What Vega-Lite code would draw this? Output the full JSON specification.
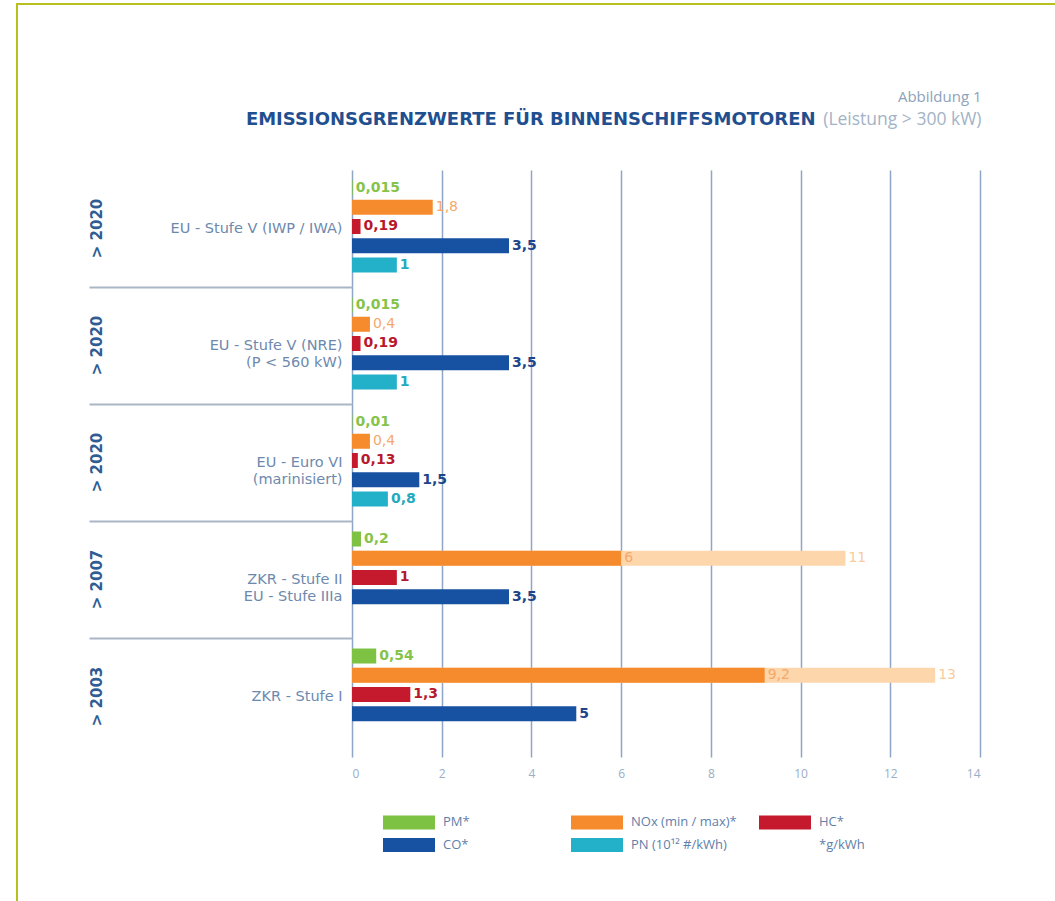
{
  "$schema": "https://vega.github.io/schema/vega-lite/v6.json",
  "width": 1045,
  "height": 900,
  "padding": {"left": 17, "top": 4, "right": 0, "bottom": 0},
  "autosize": {"type": "pad"},
  "background": "white",
  "config": {
    "font": "DejaVu Sans",
    "view": {"stroke": "#b7c11c", "strokeWidth": 2},
    "locale": {"number": {"decimal": ",", "thousands": ".", "grouping": [3], "currency": ["", " €"]}}
  },
  "data": {
    "values": [
      {"gruppe": "> 2020;EU - Stufe V (IWP / IWA)", "comp": "PM*", "value": 0.015},
      {"gruppe": "> 2020;EU - Stufe V (IWP / IWA)", "comp": "NOx (min / max)*", "value": 1.8},
      {"gruppe": "> 2020;EU - Stufe V (IWP / IWA)", "comp": "HC*", "value": 0.19},
      {"gruppe": "> 2020;EU - Stufe V (IWP / IWA)", "comp": "CO*", "value": 3.5},
      {"gruppe": "> 2020;EU - Stufe V (IWP / IWA)", "comp": "PN (10¹² #/kWh)", "value": 1},
      {"gruppe": "> 2020;EU - Stufe V (NRE)|(P < 560 kW)", "comp": "PM*", "value": 0.015},
      {"gruppe": "> 2020;EU - Stufe V (NRE)|(P < 560 kW)", "comp": "NOx (min / max)*", "value": 0.4},
      {"gruppe": "> 2020;EU - Stufe V (NRE)|(P < 560 kW)", "comp": "HC*", "value": 0.19},
      {"gruppe": "> 2020;EU - Stufe V (NRE)|(P < 560 kW)", "comp": "CO*", "value": 3.5},
      {"gruppe": "> 2020;EU - Stufe V (NRE)|(P < 560 kW)", "comp": "PN (10¹² #/kWh)", "value": 1},
      {"gruppe": "> 2020;EU - Euro VI|(marinisiert)", "comp": "PM*", "value": 0.01},
      {"gruppe": "> 2020;EU - Euro VI|(marinisiert)", "comp": "NOx (min / max)*", "value": 0.4},
      {"gruppe": "> 2020;EU - Euro VI|(marinisiert)", "comp": "HC*", "value": 0.13},
      {"gruppe": "> 2020;EU - Euro VI|(marinisiert)", "comp": "CO*", "value": 1.5},
      {"gruppe": "> 2020;EU - Euro VI|(marinisiert)", "comp": "PN (10¹² #/kWh)", "value": 0.8},
      {"gruppe": "> 2007;ZKR - Stufe II|EU - Stufe IIIa", "comp": "PM*", "value": 0.2},
      {"gruppe": "> 2007;ZKR - Stufe II|EU - Stufe IIIa", "comp": "NOx (min / max)*", "value": 6, "max": 11},
      {"gruppe": "> 2007;ZKR - Stufe II|EU - Stufe IIIa", "comp": "HC*", "value": 1},
      {"gruppe": "> 2007;ZKR - Stufe II|EU - Stufe IIIa", "comp": "CO*", "value": 3.5},
      {"gruppe": "> 2003;ZKR - Stufe I", "comp": "PM*", "value": 0.54},
      {"gruppe": "> 2003;ZKR - Stufe I", "comp": "NOx (min / max)*", "value": 9.2, "max": 13},
      {"gruppe": "> 2003;ZKR - Stufe I", "comp": "HC*", "value": 1.3},
      {"gruppe": "> 2003;ZKR - Stufe I", "comp": "CO*", "value": 5}
    ]
  },
  "resolve": {"axis": {"y": "independent"}},
  "encoding": {
    "y": {
      "field": "gruppe", "type": "nominal",
      "scale": {"domain": ["> 2020;EU - Stufe V (IWP / IWA)", "> 2020;EU - Stufe V (NRE)|(P < 560 kW)", "> 2020;EU - Euro VI|(marinisiert)", "> 2007;ZKR - Stufe II|EU - Stufe IIIa", "> 2003;ZKR - Stufe I"], "range": [166, 751], "paddingInner": 0, "paddingOuter": 0},
      "axis": null
    },
    "yOffset": {
      "field": "comp", "type": "nominal",
      "scale": {"domain": ["PM*", "NOx (min / max)*", "HC*", "CO*", "PN (10¹² #/kWh)"], "paddingInner": 0.22, "paddingOuter": 0.65, "align": 0.42}
    }
  },
  "layer": [
    {
      "transform": [{"filter": "isValid(datum.max)"}],
      "mark": {"type": "bar", "color": "#fdd6ab"},
      "encoding": {
        "x": {
          "field": "max", "type": "quantitative",
          "scale": {"domain": [0, 14], "range": [335, 963], "nice": false},
          "axis": {
            "orient": "bottom", "offset": -734, "values": [0, 2, 4, 6, 8, 10, 12, 14], "tickSize": 587, "tickColor": "#8ea5c5", "tickWidth": 1.5,
            "domain": false, "grid": false, "labelPadding": 11, "labelFont": "Open Sans", "labelFontSize": 12, "labelColor": "#9aaec6",
            "title": "Abbildung 1", "titleX": 964, "titleY": -69, "titleAlign": "right", "titleBaseline": "alphabetic", "titleAngle": 0,
            "titleFont": "Open Sans", "titleFontSize": 15, "titleFontWeight": "normal", "titleColor": "#8ea2bb"
          }
        },
        "y": {
          "field": "gruppe", "type": "nominal",
          "scale": {"domain": ["> 2020;EU - Stufe V (IWP / IWA)", "> 2020;EU - Stufe V (NRE)|(P < 560 kW)", "> 2020;EU - Euro VI|(marinisiert)", "> 2007;ZKR - Stufe II|EU - Stufe IIIa", "> 2003;ZKR - Stufe I"], "range": [166, 751], "paddingInner": 0, "paddingOuter": 0},
          "axis": {
            "orient": "left", "offset": -79, "domain": false, "ticks": false, "tickSize": 0, "grid": false,
            "labelPadding": 0, "labelExpr": "isValid(datum.value) ? split(datum.value, ';')[0] : ''", "labelAngle": 270,
            "labelAlign": "center", "labelBaseline": "middle", "labelFont": "DejaVu Sans", "labelFontSize": 15, "labelFontWeight": "bold", "labelColor": "#2f5c92",
            "title": "(Leistung > 300 kW)", "titleAngle": 0, "titleX": 885, "titleY": 120, "titleAlign": "right", "titleBaseline": "alphabetic",
            "titleFont": "Open Sans", "titleFontSize": 17.5, "titleFontWeight": "normal", "titleColor": "#a3b3c6"
          }
        }
      }
    },
    {
      "mark": {"type": "bar"},
      "encoding": {
        "x": {
          "field": "value", "type": "quantitative",
          "scale": {"domain": [0, 14], "range": [335, 963], "nice": false},
          "axis": {
            "orient": "bottom", "offset": -734, "values": [0, 2, 4, 6, 8, 10, 12, 14], "tickSize": 587, "tickColor": "#8ea5c5", "tickWidth": 1.5,
            "domain": false, "grid": false, "labelPadding": 11, "labelFont": "Open Sans", "labelFontSize": 12, "labelColor": "#9aaec6",
            "title": "Abbildung 1", "titleX": 964, "titleY": -69, "titleAlign": "right", "titleBaseline": "alphabetic", "titleAngle": 0,
            "titleFont": "Open Sans", "titleFontSize": 15, "titleFontWeight": "normal", "titleColor": "#8ea2bb"
          }
        },
        "y": {
          "field": "gruppe", "type": "nominal",
          "scale": {"domain": ["> 2020;EU - Stufe V (IWP / IWA)", "> 2020;EU - Stufe V (NRE)|(P < 560 kW)", "> 2020;EU - Euro VI|(marinisiert)", "> 2007;ZKR - Stufe II|EU - Stufe IIIa", "> 2003;ZKR - Stufe I"], "range": [166, 751], "paddingInner": 0, "paddingOuter": 0},
          "axis": {
            "orient": "left", "offset": -335, "domain": false, "tickBand": "extent", "tickSize": 263, "tickColor": "#aab6c6", "tickWidth": 2, "grid": false,
            "tickOpacity": {"condition": {"test": "!isValid(datum.value) || datum.value == '> 2003;ZKR - Stufe I'", "value": 0}, "value": 1},
            "labelPadding": -253, "labelExpr": "isValid(datum.value) ? split(split(datum.value, ';')[1], '|') : ''", "labelFont": "DejaVu Sans",
            "labelFontSize": {"condition": {"test": "!isValid(datum.value)", "value": 0}, "value": 14.5},
            "labelColor": "#6d89ad",
            "labelLineHeight": 17, "labelAlign": "right", "labelBaseline": "middle", "labelLimit": 0,
            "title": "EMISSIONSGRENZWERTE FÜR BINNENSCHIFFSMOTOREN", "titleAngle": 0, "titleX": 463, "titleY": 120, "titleAlign": "right", "titleBaseline": "alphabetic",
            "titleFont": "DejaVu Sans", "titleFontSize": 18, "titleFontWeight": "bold", "titleColor": "#1f4f8f"
          }
        },
        "color": {
          "field": "comp", "type": "nominal",
          "scale": {"domain": ["PM*", "NOx (min / max)*", "HC*", "CO*", "PN (10¹² #/kWh)", "*g/kWh"], "range": ["#7dc243", "#f68b2d", "#c5192d", "#1652a1", "#22b1c8", "transparent"]},
          "legend": {
            "orient": "none", "legendX": 379, "legendY": 805, "direction": "horizontal", "columns": 3, "gridAlign": "all",
            "columnPadding": 22, "rowPadding": 2, "symbolType": "M-2,-0.54H2V0.54H-2Z", "symbolSize": 676, "symbolStrokeWidth": 0,
            "labelFont": "Open Sans", "labelFontSize": 13, "labelColor": "#5f80aa", "labelOffset": 21, "title": null, "symbolOpacity": 1
          }
        }
      }
    },
    {
      "transform": [{"filter": "datum.comp != 'NOx (min / max)*'"}],
      "mark": {"type": "text", "align": "left", "baseline": "middle", "dx": 3, "font": "DejaVu Sans", "fontSize": 14, "fontWeight": "bold"},
      "encoding": {
        "x": {
          "field": "value", "type": "quantitative",
          "scale": {"domain": [0, 14], "range": [335, 963], "nice": false},
          "axis": {
            "orient": "bottom", "offset": -734, "values": [0, 2, 4, 6, 8, 10, 12, 14], "tickSize": 587, "tickColor": "#8ea5c5", "tickWidth": 1.5,
            "domain": false, "grid": false, "labelPadding": 11, "labelFont": "Open Sans", "labelFontSize": 12, "labelColor": "#9aaec6",
            "title": "Abbildung 1", "titleX": 964, "titleY": -69, "titleAlign": "right", "titleBaseline": "alphabetic", "titleAngle": 0,
            "titleFont": "Open Sans", "titleFontSize": 15, "titleFontWeight": "normal", "titleColor": "#8ea2bb"
          }
        },
        "text": {"field": "value", "type": "quantitative", "format": "~g"},
        "fill": {
          "field": "comp", "type": "nominal",
          "scale": {"domain": ["PM*", "HC*", "CO*", "PN (10¹² #/kWh)"], "range": ["#86c34a", "#b8182c", "#1d4589", "#26a9bf"]},
          "legend": null
        }
      }
    },
    {
      "transform": [{"filter": "datum.comp == 'NOx (min / max)*'"}],
      "mark": {"type": "text", "align": "left", "baseline": "middle", "dx": 3, "font": "DejaVu Sans", "fontSize": 14, "color": "#f5a86a"},
      "encoding": {
        "x": {
          "field": "value", "type": "quantitative",
          "scale": {"domain": [0, 14], "range": [335, 963], "nice": false},
          "axis": {
            "orient": "bottom", "offset": -734, "values": [0, 2, 4, 6, 8, 10, 12, 14], "tickSize": 587, "tickColor": "#8ea5c5", "tickWidth": 1.5,
            "domain": false, "grid": false, "labelPadding": 11, "labelFont": "Open Sans", "labelFontSize": 12, "labelColor": "#9aaec6",
            "title": "Abbildung 1", "titleX": 964, "titleY": -69, "titleAlign": "right", "titleBaseline": "alphabetic", "titleAngle": 0,
            "titleFont": "Open Sans", "titleFontSize": 15, "titleFontWeight": "normal", "titleColor": "#8ea2bb"
          }
        },
        "text": {"field": "value", "type": "quantitative", "format": "~g"}
      }
    },
    {
      "transform": [{"filter": "isValid(datum.max)"}],
      "mark": {"type": "text", "align": "left", "baseline": "middle", "dx": 3, "font": "DejaVu Sans", "fontSize": 14, "color": "#f8cc9e"},
      "encoding": {
        "x": {
          "field": "max", "type": "quantitative",
          "scale": {"domain": [0, 14], "range": [335, 963], "nice": false},
          "axis": {
            "orient": "bottom", "offset": -734, "values": [0, 2, 4, 6, 8, 10, 12, 14], "tickSize": 587, "tickColor": "#8ea5c5", "tickWidth": 1.5,
            "domain": false, "grid": false, "labelPadding": 11, "labelFont": "Open Sans", "labelFontSize": 12, "labelColor": "#9aaec6",
            "title": "Abbildung 1", "titleX": 964, "titleY": -69, "titleAlign": "right", "titleBaseline": "alphabetic", "titleAngle": 0,
            "titleFont": "Open Sans", "titleFontSize": 15, "titleFontWeight": "normal", "titleColor": "#8ea2bb"
          }
        },
        "text": {"field": "max", "type": "quantitative", "format": "~g"}
      }
    }
  ]
}
